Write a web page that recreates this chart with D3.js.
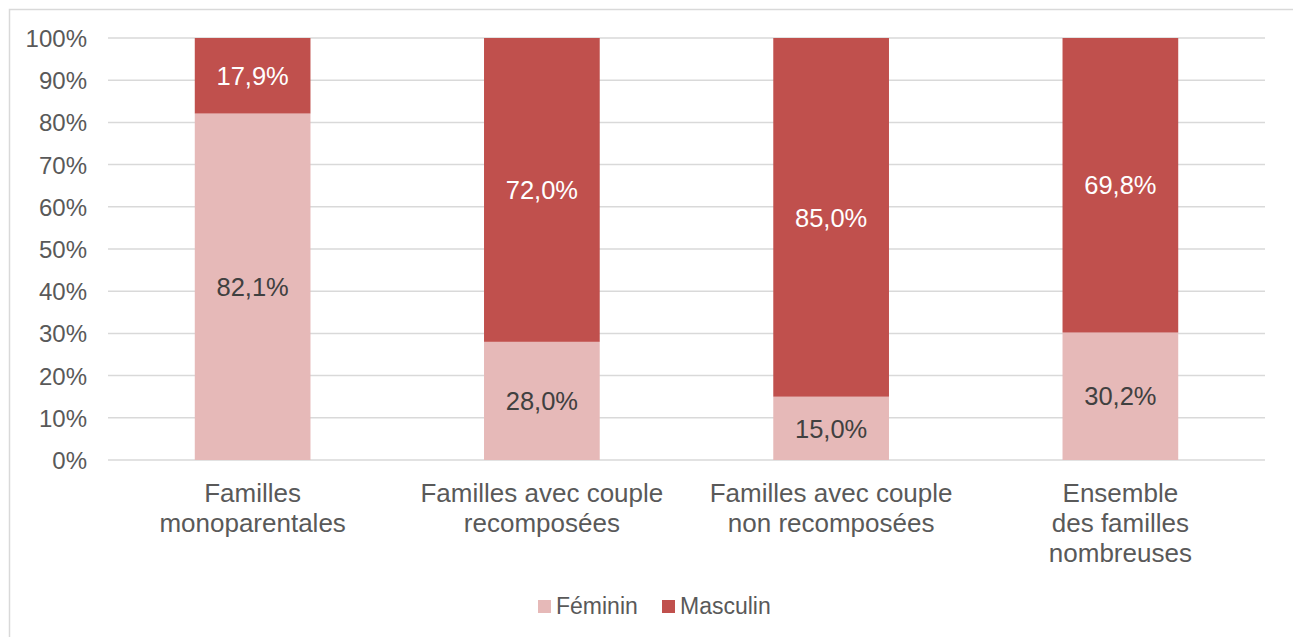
<!DOCTYPE html>
<html>
<head>
<meta charset="utf-8">
<script src="https://cdn.jsdelivr.net/npm/d3@7"></script>
<style>
  body { margin: 0; background: #fff; }
  text { font-family: "Liberation Sans", Arial, sans-serif; }
</style>
</head>
<body>
<svg id="chart"></svg>
<script>
// categories and values
var categories = [
  ['Familles', 'monoparentales'],
  ['Familles avec couple', 'recomposées'],
  ['Familles avec couple', 'non recomposées'],
  ['Ensemble', 'des familles', 'nombreuses']
];
var feminin = [82.1, 28.0, 15.0, 30.2];
var masculin = [17.9, 72.0, 85.0, 69.8];
var seriesNames = ['Féminin', 'Masculin'];
var seriesColors = ['#e6b9b8', '#c0504d'];
var yTicks = [0, 10, 20, 30, 40, 50, 60, 70, 80, 90, 100];

var canvasWidth = 1293;
var canvasHeight = 637;
var margin = { top: 38, right: 28, bottom: 177, left: 108 };
var width = canvasWidth - margin.left - margin.right;
var height = canvasHeight - margin.top - margin.bottom;

var svg = d3.select('#chart')
  .attr('width', canvasWidth)
  .attr('height', canvasHeight);

// outer chart border
svg.append('rect')
  .attr('x', 9.5).attr('y', 9.5)
  .attr('width', 1400).attr('height', 700)
  .attr('fill', 'none')
  .attr('stroke', '#d9d9d9')
  .attr('stroke-width', 1.5);

var g = svg.append('g')
  .attr('transform', 'translate(' + margin.left + ',' + margin.top + ')');

var xScale = d3.scaleBand()
  .domain(d3.range(categories.length))
  .range([0, width])
  .paddingInner(0.6)
  .paddingOuter(0.3);
var yScale = d3.scaleLinear().domain([0, 100]).range([height, 0]);

// gridlines
g.selectAll('.grid')
  .data(yTicks)
  .enter().append('line')
  .attr('x1', 0).attr('x2', width)
  .attr('y1', function(d) { return yScale(d); })
  .attr('y2', function(d) { return yScale(d); })
  .attr('stroke', '#d9d9d9')
  .attr('stroke-width', 1.5);

// y axis labels
var yAxis = g.append('g')
  .call(d3.axisLeft(yScale).tickValues(yTicks).tickSize(0).tickPadding(21)
    .tickFormat(function(d) { return d + '%'; }));
yAxis.select('.domain').remove();
yAxis.selectAll('text')
  .attr('fill', '#595959')
  .style('font-size', '24px')
  .attr('dy', '0.35em');

// stacked data
var rows = categories.map(function(c, i) {
  return { i: i, f: feminin[i], m: masculin[i] };
});

var bars = g.selectAll('.bar')
  .data(rows)
  .enter().append('g');

bars.append('rect')
  .attr('x', function(d) { return xScale(d.i); })
  .attr('width', xScale.bandwidth())
  .attr('y', function(d) { return yScale(d.f); })
  .attr('height', function(d) { return height - yScale(d.f); })
  .attr('fill', seriesColors[0]);

bars.append('rect')
  .attr('x', function(d) { return xScale(d.i); })
  .attr('width', xScale.bandwidth())
  .attr('y', function(d) { return yScale(d.f + d.m); })
  .attr('height', function(d) { return yScale(d.f) - yScale(d.f + d.m); })
  .attr('fill', seriesColors[1]);

function fmt(v) { return v.toFixed(1).replace('.', ',') + '%'; }

// data labels
bars.append('text')
  .attr('x', function(d) { return xScale(d.i) + xScale.bandwidth() / 2; })
  .attr('y', function(d) { return yScale(d.f / 2); })
  .attr('dy', '0.36em')
  .attr('text-anchor', 'middle')
  .attr('fill', '#404040')
  .style('font-size', '25.5px')
  .text(function(d) { return fmt(d.f); });

bars.append('text')
  .attr('x', function(d) { return xScale(d.i) + xScale.bandwidth() / 2; })
  .attr('y', function(d) { return yScale(d.f + d.m / 2); })
  .attr('dy', '0.36em')
  .attr('text-anchor', 'middle')
  .attr('fill', '#ffffff')
  .style('font-size', '25.5px')
  .text(function(d) { return fmt(d.m); });

// category labels
var catLabels = g.selectAll('.cat')
  .data(categories)
  .enter().append('text')
  .attr('text-anchor', 'middle')
  .attr('fill', '#595959')
  .style('font-size', '26px')
  .attr('x', function(d, i) { return xScale(i) + xScale.bandwidth() / 2; })
  .attr('y', height + 42);
catLabels.selectAll('tspan')
  .data(function(d) { return d; })
  .enter().append('tspan')
  .attr('x', function() { return d3.select(this.parentNode).attr('x'); })
  .attr('dy', function(d, i) { return i === 0 ? 0 : 30; })
  .text(function(d) { return d; });

// legend
var legendX = [538, 662];
var legend = svg.selectAll('.legend')
  .data(seriesNames)
  .enter().append('g')
  .attr('transform', function(d, i) { return 'translate(' + legendX[i] + ',600)'; });
legend.append('rect')
  .attr('width', 13).attr('height', 13)
  .attr('fill', function(d, i) { return seriesColors[i]; });
legend.append('text')
  .attr('x', 18).attr('y', 14)
  .attr('fill', '#595959')
  .style('font-size', '23px')
  .text(function(d) { return d; });
</script>
</body>
</html>
